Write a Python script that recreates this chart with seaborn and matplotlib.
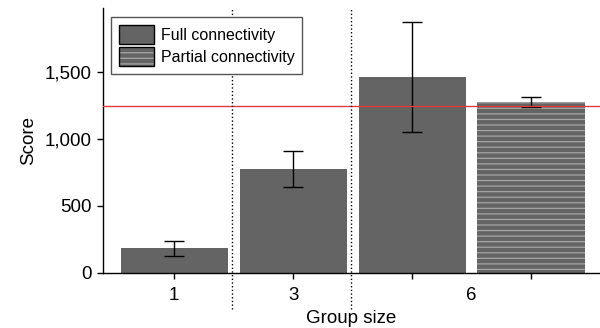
import matplotlib

matplotlib.use('Agg')
import matplotlib.pyplot as plt
import seaborn as sns
import numpy as np
from matplotlib.patches import Patch
from matplotlib.ticker import FuncFormatter

# ── data ────────────────────────────────────────────────
bar_ids = ['1', '3', '6 full', '6 partial']
group_labels = ['1', '3', '6']
connectivity = ['Full', 'Full', 'Full', 'Partial']
scores = [185, 777, 1464, 1276]
errors = [56, 132, 412, 37]
reference_score = 1250

# ── style ───────────────────────────────────────────────
sns.set_style('ticks')
plt.rcParams['font.family'] = ['Liberation Sans', 'DejaVu Sans']
plt.rcParams['hatch.linewidth'] = 0.9

GREY = '#646464'
HATCH_C = '#a6a6a6'

fig = plt.figure(figsize=(6, 3.28), dpi=100)
ax = fig.add_axes([0.172, 0.168, 0.828, 0.808])

sns.barplot(x=bar_ids, y=scores, hue=connectivity, dodge=False,
            palette={'Full': GREY, 'Partial': GREY}, width=0.9,
            errorbar=None, legend=False, saturation=1, ax=ax)

for bar in ax.containers[1]:
    bar.set_hatch('---')
    bar.set_edgecolor(HATCH_C)
    bar.set_linewidth(0)
for bar in ax.containers[0]:
    bar.set_linewidth(0)

x = np.arange(len(bar_ids))
ax.errorbar(x, scores, yerr=errors, fmt='none', ecolor='black',
            elinewidth=1, capsize=7, capthick=1, zorder=4)

ax.axhline(reference_score, color='#e03a3a', lw=1, zorder=5)
for xv in (0.49, 1.485):
    ax.axvline(xv, ymin=-0.135, ymax=1, color='black', ls=':', lw=1,
               clip_on=False, zorder=5)

ax.set_xlim(-0.597, 3.58)
ax.set_ylim(0, 1980)
ax.set_yticks([0, 500, 1000, 1500])
ax.yaxis.set_major_formatter(FuncFormatter(lambda v, p: f'{v:,.0f}'))

ax.xaxis.remove_overlapping_locs = False
ax.set_xticks(x)
ax.set_xticklabels(['', '', '', ''])
ax.set_xticks([0, 1, 2.5], minor=True)
ax.set_xticklabels(group_labels, minor=True)
ax.tick_params(axis='x', which='minor', length=0, pad=10.5, labelsize=13.5,
               labelcolor='black')
ax.tick_params(axis='both', which='major', length=4.5, width=1, color='black',
               labelsize=13.5, labelcolor='black')

ax.set_xlabel('Group size', fontsize=13.5, labelpad=4, color='black')
ax.set_ylabel('Score', fontsize=13.5, labelpad=6, color='black')
sns.despine(ax=ax)
for s in ('left', 'bottom'):
    ax.spines[s].set_color('black')
    ax.spines[s].set_linewidth(1)

h_full = Patch(facecolor=GREY, edgecolor='black', lw=1)
h_part = (Patch(facecolor=GREY, edgecolor=HATCH_C, hatch='---', lw=0),
          Patch(facecolor='none', edgecolor='black', lw=1))
leg = ax.legend([h_full, h_part], ['Full connectivity', 'Partial connectivity'],
                loc='upper left', bbox_to_anchor=(0.016, 0.966), borderaxespad=0,
                fancybox=False, edgecolor='#555555', fontsize=11.5,
                handlelength=2.2, handleheight=1.45, labelspacing=0.2,
                handletextpad=0.4, borderpad=0.5, framealpha=1)
leg.get_frame().set_linewidth(1)
for t in leg.get_texts():
    t.set_color('black')

plt.savefig('out.png', dpi=100)
